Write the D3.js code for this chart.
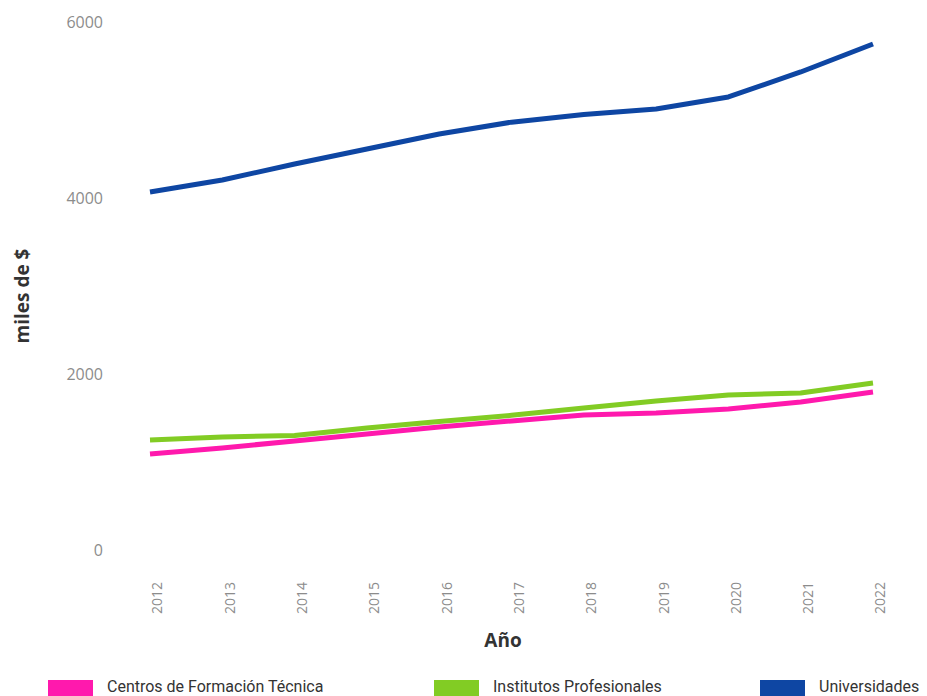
<!DOCTYPE html>
<html>
<head>
<meta charset="utf-8">
<script src="https://cdn.jsdelivr.net/npm/d3@7"></script>
<style>
  html, body { margin: 0; padding: 0; background: #fff; }
  svg { display: block; }
</style>
</head>
<body>
<svg id="chart" width="927" height="696"></svg>
<script>
// Years on the horizontal axis
const years = [2012, 2013, 2014, 2015, 2016, 2017, 2018, 2019, 2020, 2021, 2022];

// Series values, in thousands of pesos
const cft = [1090, 1160, 1239, 1318, 1398, 1466, 1534, 1557, 1602, 1682, 1795];
const ip  = [1250, 1284, 1301, 1386, 1460, 1530, 1614, 1693, 1761, 1784, 1898];
const uni = [4068, 4205, 4386, 4557, 4727, 4862, 4949, 5011, 5148, 5432, 5750];

const seriesNames = ["Centros de Formación Técnica", "Institutos Profesionales", "Universidades"];
const seriesColors = ["#ff19ad", "#82cc24", "#0e46a3"];
const yTicks = [0, 2000, 4000, 6000];

const series = [cft, ip, uni].map((vals, i) => ({
  name: seriesNames[i],
  color: seriesColors[i],
  values: vals.map((v, j) => ({ year: years[j], value: v }))
}));

const svg = d3.select("#chart");

const x = d3.scalePoint().domain(years).range([150, 873]);
const y = d3.scaleLinear().domain([0, 6000]).range([550, 22]);

// Y axis: labels only
const yAxis = svg.append("g")
  .attr("transform", "translate(103,0)")
  .call(d3.axisLeft(y).tickValues(yTicks).tickSize(0).tickPadding(0).tickFormat(d3.format("d")));
yAxis.select(".domain").remove();
yAxis.selectAll("text")
  .attr("font-family", "'Open Sans', 'Noto Sans', sans-serif")
  .attr("font-size", 16)
  .attr("fill", "#8c8c8c");

// X axis: rotated year labels
const xAxis = svg.append("g")
  .attr("transform", "translate(0,582)")
  .call(d3.axisBottom(x).tickSize(0).tickPadding(0));
xAxis.select(".domain").remove();
xAxis.selectAll(".tick text")
  .attr("font-family", "'Open Sans', 'Noto Sans', sans-serif")
  .attr("font-size", 14)
  .attr("fill", "#8c8c8c")
  .attr("text-anchor", "end")
  .attr("y", 0)
  .attr("dy", "0.35em")
  .attr("transform", "translate(7,0) rotate(-90)");

// Axis titles
svg.append("text")
  .attr("x", 503).attr("y", 647)
  .attr("text-anchor", "middle")
  .attr("font-family", "'Open Sans', 'Noto Sans', sans-serif")
  .attr("font-weight", "bold")
  .attr("font-size", 19)
  .attr("fill", "#333")
  .text("Año");

svg.append("text")
  .attr("transform", "translate(29,296) rotate(-90)")
  .attr("text-anchor", "middle")
  .attr("font-family", "'Open Sans', 'Noto Sans', sans-serif")
  .attr("font-weight", "bold")
  .attr("font-size", 19)
  .attr("fill", "#333")
  .text("miles de $");

// Lines
const line = d3.line()
  .x(d => x(d.year))
  .y(d => y(d.value));

svg.append("g")
  .selectAll("path")
  .data(series)
  .join("path")
  .attr("d", d => line(d.values))
  .attr("fill", "none")
  .attr("stroke", d => d.color)
  .attr("stroke-width", 5)
  .attr("stroke-linejoin", "round");

// Legend along the bottom edge
const legendX = [48, 434, 760];
const legend = svg.append("g")
  .selectAll("g")
  .data(series)
  .join("g")
  .attr("transform", (d, i) => `translate(${legendX[i]},680)`);

legend.append("rect")
  .attr("width", 45)
  .attr("height", 16)
  .attr("fill", d => d.color);

legend.append("text")
  .attr("x", 59)
  .attr("y", 12)
  .attr("font-family", "'Roboto', 'Noto Sans', sans-serif")
  .attr("font-size", 16)
  .attr("fill", "#333")
  .text(d => d.name);
</script>
</body>
</html>
